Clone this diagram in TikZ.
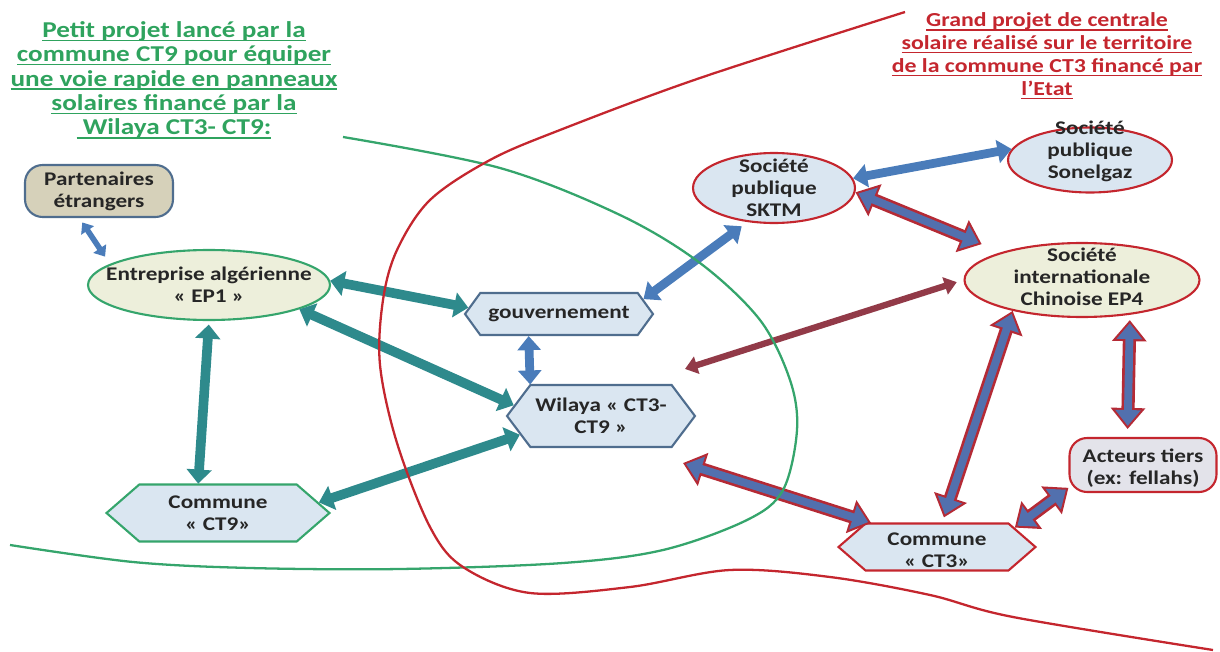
\documentclass[tikz,border=0pt]{standalone}
\usepackage{fontspec}
\setmainfont{Carlito}[FakeStretch=1.2]
\usetikzlibrary{shapes,arrows.meta}

\newsavebox{\undlbox}
\newcommand{\undl}[1]{\sbox{\undlbox}{#1}\rlap{\rule[-2.2pt]{\wd\undlbox}{0.85pt}}\usebox{\undlbox}}

\definecolor{lineteal}{HTML}{2E8A8C}
\definecolor{lineblue}{HTML}{4A7CBA}
\definecolor{inblue}{HTML}{5270AE}
\definecolor{maroonarr}{HTML}{923A48}
\definecolor{frred}{HTML}{C4262E}
\definecolor{arrred}{HTML}{B52A35}
\definecolor{frgreen}{HTML}{35A56C}
\definecolor{titlegreen}{HTML}{2FA35E}
\definecolor{frslate}{HTML}{4F6D8E}
\definecolor{paleblue}{HTML}{DAE6F1}
\definecolor{palebeige}{HTML}{EDEFDB}
\definecolor{tanfill}{HTML}{D6D1BA}
\definecolor{palegrey}{HTML}{E3E3EA}
\definecolor{nodetext}{HTML}{262626}

\tikzset{
  txt/.style={align=center,text=nodetext,inner sep=0pt,font=\fontsize{11}{12.5}\selectfont\bfseries},
  headgreen/.style={align=center,inner sep=0pt,text=titlegreen,font=\fontsize{12.9}{13.9}\selectfont\bfseries},
  headred/.style={align=center,inner sep=0pt,text=frred,font=\fontsize{11.3}{13}\selectfont\bfseries},
  box/.style={inner sep=0pt,line width=1.2pt},
  oval/.style={box,ellipse},
  hexa/.style={box,signal,signal to=east and west,signal pointer angle=#1},
  pill/.style={box,rectangle,rounded corners=10pt},
  tealarr/.style={draw=lineteal,line width=5.5pt,arrows={Triangle[length=8pt,width=14pt]-Triangle[length=8pt,width=14pt]}},
  bluearr/.style={draw=lineblue,line width=5pt,arrows={Triangle[length=8pt,width=13pt]-Triangle[length=8pt,width=13pt]}},
  thinarr/.style={draw=lineblue,line width=3.2pt,arrows={Triangle[length=5.5pt,width=8.5pt]-Triangle[length=5.5pt,width=8.5pt]}},
  maroonarr/.style={draw=maroonarr,line width=3.6pt,arrows={Triangle[length=7pt,width=10pt]-Triangle[length=7pt,width=10pt]}},
  outl/.style={draw=arrred,line width=7.5pt,arrows={Triangle[length=12pt,width=19pt]-Triangle[length=12pt,width=19pt]}},
  inl/.style={draw=inblue,line width=4.5pt,arrows={Triangle[length=9pt,width=14pt]-Triangle[length=9pt,width=14pt]}}
}

\begin{document}
\begin{tikzpicture}[x=0.02cm,y=-0.02cm]
\useasboundingbox (0,0) rectangle (1220,652);

\node[headgreen] (tgreen) at (174,80) {\undl{Petit projet lancé par la}\\\undl{commune CT9 pour équiper}\\\undl{une voie rapide en panneaux}\\\undl{solaires financé par la}\\\undl{\ Wilaya CT3- CT9:}};
\node[headred] (tred) at (1047,56) {\undl{Grand projet de centrale}\\\undl{solaire réalisé sur le territoire}\\\undl{de la commune CT3 financé par}\\\undl{l’Etat}};

\node[pill,draw=frslate,fill=tanfill,minimum width=2.96cm,minimum height=1.04cm,label={[txt]center:Partenaires\\étrangers}] (part) at (99,191) {};
\node[oval,draw=frgreen,fill=palebeige,minimum width=4.84cm,minimum height=1.4cm,label={[txt]center:Entreprise algérienne\\« EP1 »}] (ep1) at (209,285) {};
\node[hexa=108,draw=frslate,fill=paleblue,minimum width=3.76cm,minimum height=0.84cm,label={[txt]center:gouvernement}] (gouv) at (559,314) {};
\node[hexa=106,draw=frslate,fill=paleblue,minimum width=3.76cm,minimum height=1.24cm,label={[txt]center:Wilaya « CT3-\\CT9 »}] (wil) at (601,416) {};
\node[hexa=82,draw=frgreen,fill=paleblue,minimum width=4.46cm,minimum height=1.14cm,label={[txt]center:Commune\\« CT9»}] (ct9) at (218,513) {};
\node[oval,draw=frred,fill=paleblue,minimum width=3.24cm,minimum height=1.4cm,label={[txt]center:Société\\publique\\SKTM}] (sktm) at (774,188) {};
\node[oval,draw=frred,fill=paleblue,minimum width=3.28cm,minimum height=1.3cm,label={[txt,yshift=5pt]center:Société\\publique\\Sonelgaz}] (son) at (1090,160) {};
\node[oval,draw=frred,fill=palebeige,minimum width=4.7cm,minimum height=1.48cm,label={[txt,yshift=2pt]center:Société\\internationale\\Chinoise EP4}] (ep4) at (1082,280) {};
\node[pill,draw=frred,fill=palegrey,minimum width=2.94cm,minimum height=1.08cm,label={[txt,yshift=-2pt]center:{Acteurs tiers\\(ex: fellahs)}}] (act) at (1143,465) {};
\node[hexa=82,draw=frred,fill=paleblue,minimum width=3.94cm,minimum height=0.94cm,label={[txt,yshift=-2pt]center:Commune\\« CT3»}] (ct3) at (937,547) {};

\draw[thinarr,shorten <=3pt,shorten >=5pt] (part.-126) -- (ep1.168);
\draw[tealarr] (ep1.2) -- (gouv.176);
\draw[tealarr] (ep1.-15) -- (wil.173);
\draw[tealarr,shorten <=2pt] (ep1.-90) -- (ct9.124);
\draw[tealarr] (ct9.6) -- (wil.193);
\draw[bluearr] (gouv.216) -- (wil.156);
\draw[bluearr,shorten >=4pt] (gouv.10) -- (sktm.232);
\draw[bluearr] (sktm.7) -- (son.172);
\draw[maroonarr,shorten <=4pt] (ep4.west) -- ([shift={(84,-15)}]wil.north);

\draw[outl,shorten >=12pt] (sktm.-3) -- (ep4.161);
\draw[inl,shorten <=1.8pt,shorten >=13.8pt] (sktm.-3) -- (ep4.161);
\draw[outl,shorten >=3pt] (ep4.204) -- (ct3.78);
\draw[inl,shorten <=1.8pt,shorten >=4.8pt] (ep4.204) -- (ct3.78);
\draw[outl,shorten <=3pt,shorten >=4.5pt] (ep4.-36.5) -- (act.119);
\draw[inl,shorten <=4.8pt,shorten >=6.3pt] (ep4.-36.5) -- (act.119);
\draw[outl] (act.197) -- (ct3.14);
\draw[inl,shorten <=1.8pt,shorten >=1.8pt] (act.197) -- (ct3.14);
\draw[outl] ([shift={(82,15)}]wil.south) -- (ct3.160);
\draw[inl,shorten <=1.8pt,shorten >=1.8pt] ([shift={(82,15)}]wil.south) -- (ct3.160);

\draw[frgreen,line width=1.3pt] plot[smooth,tension=0.55] coordinates {(343,137) (500,168) (620,215) (700,263) (760,320) (790,380) (797,430) (783,490) (747,520) (663,550) (563,563) (400,569) (250,568) (133,562) (10,545)};
\draw[frred,line width=1.3pt] plot[smooth,tension=0.55] coordinates {(905,12) (700,78) (560,130) (490,160) (430,200) (397,250) (383,300) (380,365) (397,443) (430,527) (463,567) (530,593) (630,587) (730,570) (830,577) (930,595) (1013,617) (1213,650)};
\end{tikzpicture}
\end{document}
